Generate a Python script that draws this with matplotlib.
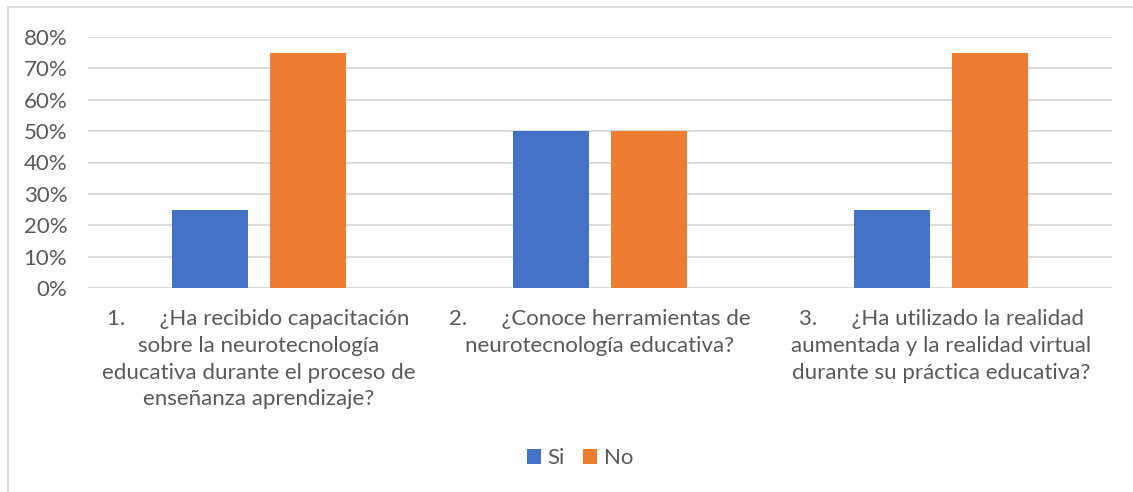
import matplotlib
matplotlib.use("Agg")
import matplotlib.pyplot as plt
from matplotlib.patches import Patch
from matplotlib.lines import Line2D
from matplotlib.ticker import PercentFormatter
import numpy as np

categories = [
    "1.      ¿Ha recibido capacitación\nsobre la neurotecnología\neducativa durante el proceso de\nenseñanza aprendizaje?",
    "2.      ¿Conoce herramientas de\nneurotecnología educativa?",
    "3.      ¿Ha utilizado la realidad\naumentada y la realidad virtual\ndurante su práctica educativa?",
]
si_values = [0.25, 0.50, 0.25]
no_values = [0.75, 0.50, 0.75]
series_names = ["Si", "No"]
yticks = [0, 0.1, 0.2, 0.3, 0.4, 0.5, 0.6, 0.7, 0.8]

BLUE = "#4472C4"
ORANGE = "#ED7D31"
TEXT = "#595959"
GRID = "#D9D9D9"

plt.rcParams["font.family"] = ["Lato", "DejaVu Sans"]

fig = plt.figure(figsize=(11.33, 4.92), dpi=100)
ax = fig.add_axes([88/1133, 1-288/492, (1112-88)/1133, (288-37)/492])

x = np.arange(len(categories))
w = 0.223
off = 0.1435
ax.bar(x - off, si_values, w, color=BLUE, zorder=3)
ax.bar(x + off, no_values, w, color=ORANGE, zorder=3)

ax.set_xlim(-0.5, 2.5)
ax.set_ylim(0, 0.8)
ax.set_yticks(yticks)
ax.yaxis.set_major_formatter(PercentFormatter(1.0, decimals=0))
ax.yaxis.grid(True, color=GRID, linewidth=1.3, zorder=0)
ax.set_axisbelow(True)
for s in ax.spines.values():
    s.set_visible(False)
ax.tick_params(axis="y", length=0, pad=15, labelsize=16, labelcolor=TEXT)
ax.tick_params(axis="x", length=0, pad=15, labelsize=16, labelcolor=TEXT)
ax.set_xticks(x)
ax.set_xticklabels(categories, linespacing=1.43)
for lab in ax.get_yticklabels():
    lab.set_horizontalalignment("right")

handles = [Patch(facecolor=BLUE, label=series_names[0]),
           Patch(facecolor=ORANGE, label=series_names[1])]
leg = fig.legend(handles=handles, loc="center", bbox_to_anchor=(580/1133, 1-458/492),
                 ncol=2, frameon=False, fontsize=16, handlelength=0.65, handleheight=0.65,
                 handletextpad=0.3, columnspacing=0.8)
for t in leg.get_texts():
    t.set_color(TEXT)

# chart border (left and top edges visible)
fig.add_artist(Line2D([7.5/1133, 7.5/1133], [0, 1-7/492], color=GRID, linewidth=1.3))
fig.add_artist(Line2D([7.5/1133, 1], [1-7/492, 1-7/492], color=GRID, linewidth=1.3))

fig.savefig("out.png", dpi=100)
